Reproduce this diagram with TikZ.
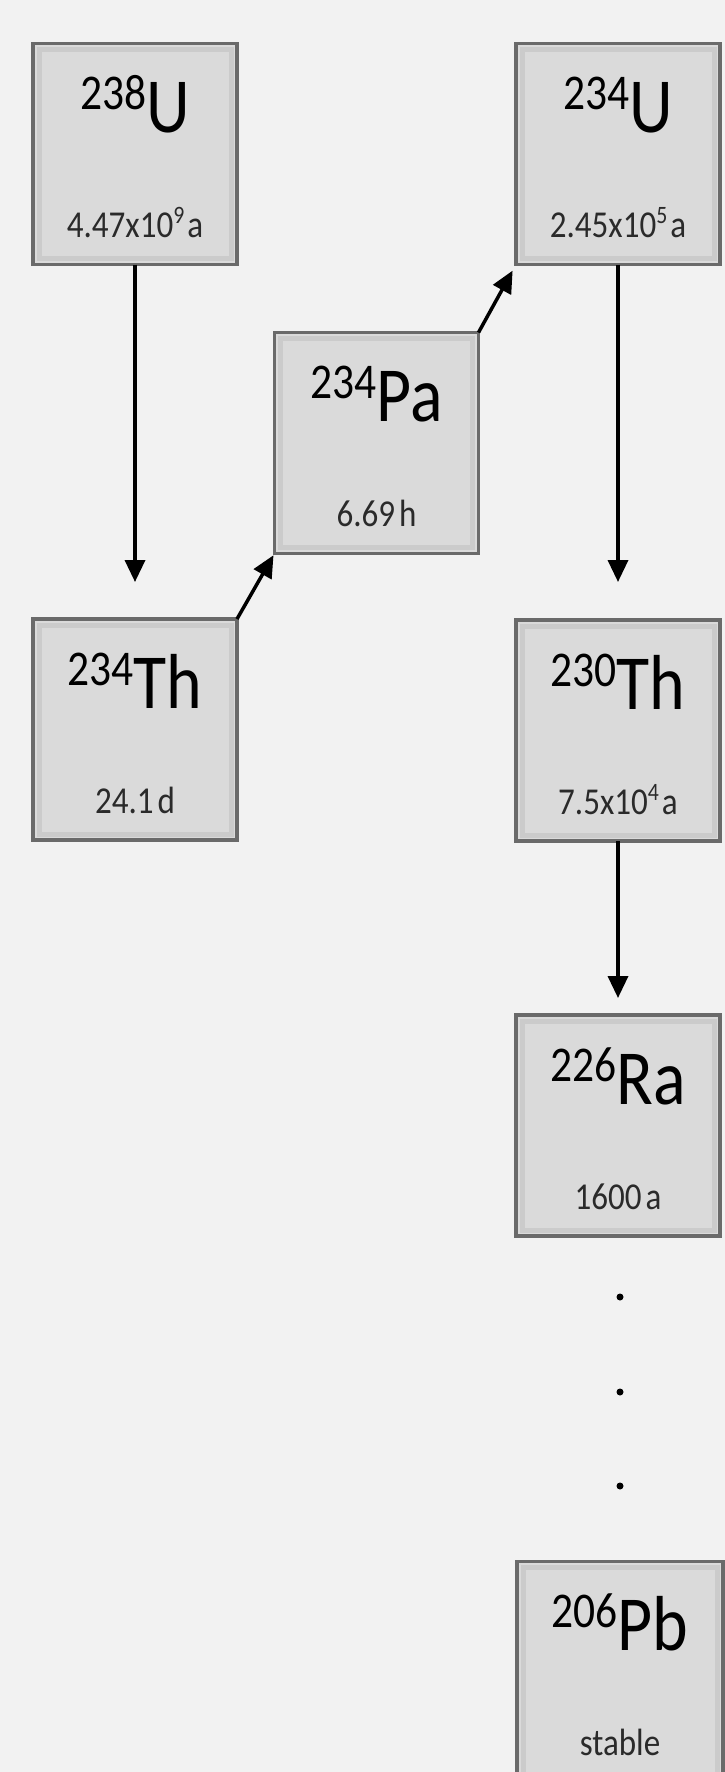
\documentclass[tikz,border=0pt]{standalone}
\usepackage{fontspec}
\setmainfont{Carlito}[FakeStretch=0.87]
\usetikzlibrary{arrows.meta,calc}
\definecolor{bg}{HTML}{F2F2F2}
\definecolor{boxfill}{HTML}{DADADA}
\definecolor{boxedge}{HTML}{6A6A6A}
\definecolor{boxin}{HTML}{CBCBCB}
\definecolor{halftxt}{HTML}{2A2A2A}
\newcommand\isotope[2]{\raisebox{23pt}{\fontsize{50}{50}\selectfont #1}#2}
\newcommand\powten[1]{\raisebox{14pt}{\fontsize{25}{25}\selectfont #1}}
\begin{document}
\begin{tikzpicture}[x=1pt,y=-1pt,
  nuclide/.style={draw=boxedge, line width=3.5pt, fill=boxfill, minimum width=204pt,
    minimum height=221pt, inner sep=0pt, outer sep=0pt,
    path picture={\draw[boxin, line width=5pt]
      ($(path picture bounding box.north west)+(6pt,-6pt)$) rectangle
      ($(path picture bounding box.south east)+(-6pt,6pt)$);}},
  sym/.style={anchor=base, inner sep=0pt, text=black, font=\fontsize{78}{78}\selectfont},
  half/.style={anchor=base, inner sep=0pt, text=halftxt, font=\fontsize{38}{38}\selectfont},
  arr/.style={line width=3.5pt, -{Triangle[length=22pt,width=20pt]}},
  dot/.style={circle, fill=black, inner sep=0pt, minimum size=7pt}]
\fill[bg] (0,0) rectangle (725,1772);
\useasboundingbox (0,0) rectangle (725,1772);

% boxes
\node[nuclide] (u238) at (135,154) {};
\node[nuclide] (th234) at (135,729.5) {};
\node[nuclide] (pa234) at (376.5,443) {};
\node[nuclide] (u234) at (618,154) {};
\node[nuclide] (th230) at (618,730.5) {};
\node[nuclide] (ra226) at (618,1125.5) {};
\node[nuclide, minimum width=206pt] (pb206) at (620,1672) {};

% texts
\node[sym] (u238s) at ($(u238.north)+(0,89)$) {\isotope{238}{U}};
\node[half] (u238h) at ($(u238.north)+(0,194)$) {4.47x10\powten{9}\kern3pt a};
\node[sym] (th234s) at ($(th234.north)+(0,89)$) {\isotope{234}{Th}};
\node[half] (th234h) at ($(th234.north)+(0,194)$) {24.1\kern4pt d};
\node[sym] (pa234s) at ($(pa234.north)+(0,89)$) {\isotope{234}{Pa}};
\node[half] (pa234h) at ($(pa234.north)+(0,194)$) {6.69\kern4pt h};
\node[sym] (u234s) at ($(u234.north)+(0,89)$) {\isotope{234}{U}};
\node[half] (u234h) at ($(u234.north)+(0,194)$) {2.45x10\powten{5}\kern3pt a};
\node[sym] (th230s) at ($(th230.north)+(0,89)$) {\isotope{230}{Th}};
\node[half] (th230h) at ($(th230.north)+(0,194)$) {7.5x10\powten{4}\kern3pt a};
\node[sym] (ra226s) at ($(ra226.north)+(0,89)$) {\isotope{226}{Ra}};
\node[half] (ra226h) at ($(ra226.north)+(0,194)$) {1600\kern4pt a};
\node[sym] (pb206s) at ($(pb206.north)+(0,89)$) {\isotope{206}{Pb}};
\node[half] (pb206h) at ($(pb206.north)+(0,194)$) {stable};

% dots
\node[dot] (d1) at (620,1297) {};
\node[dot] (d2) at (620,1392) {};
\node[dot] (d3) at (620,1486) {};

% arrows
\draw[arr, shorten >=37pt] (u238.south) -- (th234.north);
\draw[arr, shorten >=2pt] (th234.north east) -- (pa234.south west);
\draw[arr, shorten >=7pt] (pa234.north east) -- (u234.south west);
\draw[arr, shorten >=38pt] (u234.south) -- (th230.north);
\draw[arr, shorten >=17pt] (th230.south) -- (ra226.north);
\end{tikzpicture}
\end{document}
